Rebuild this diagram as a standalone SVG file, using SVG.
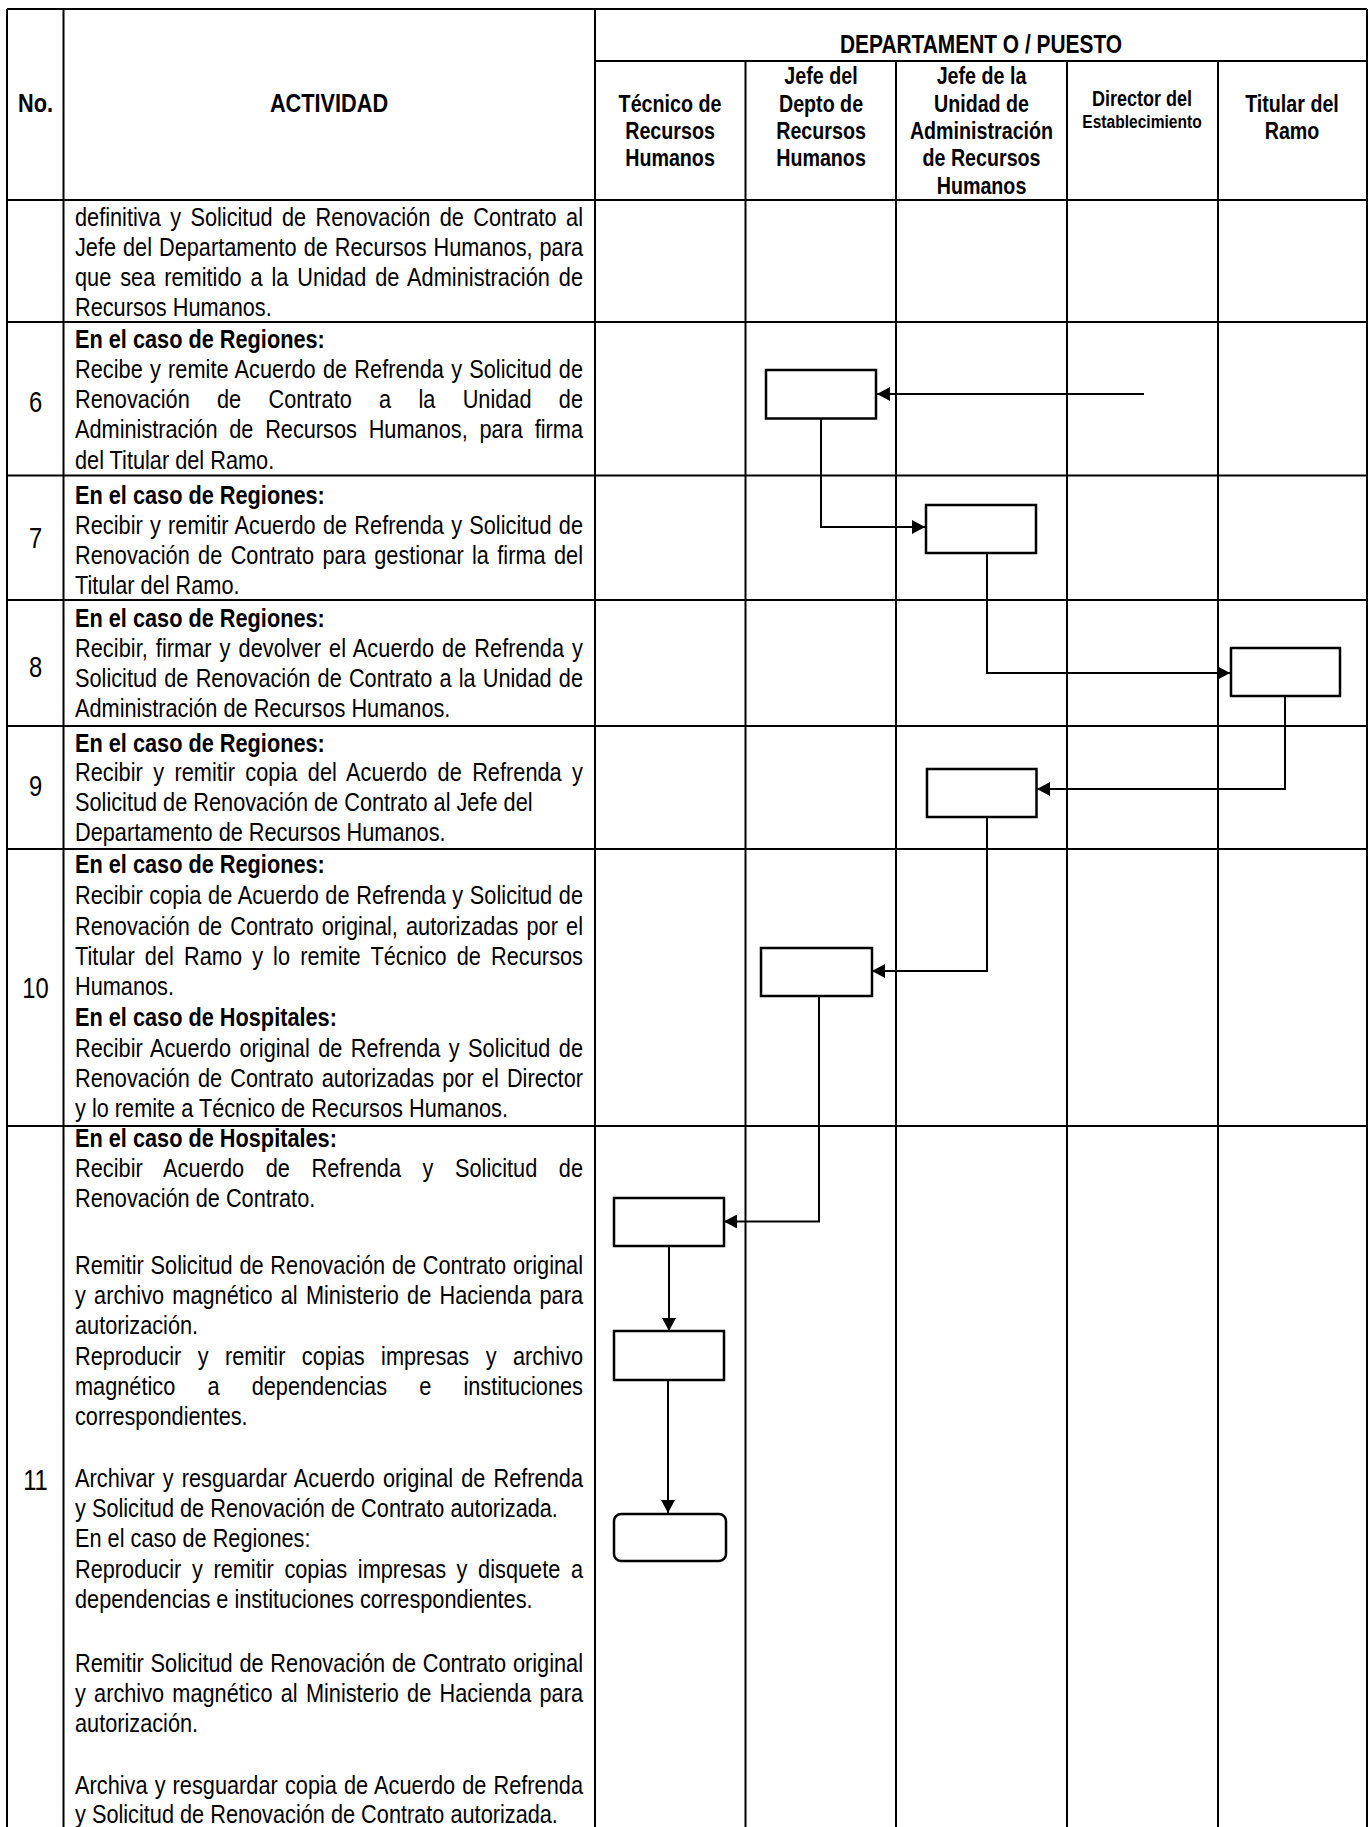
<svg xmlns="http://www.w3.org/2000/svg" width="1371" height="1827" viewBox="0 0 1371 1827">
<style>
text{font-family:"Liberation Sans",Arial,sans-serif;fill:#000}
.t{font-size:26.5px}
.b{font-size:26.5px;font-weight:bold}
.n{font-size:29px;text-anchor:middle}
.h{font-size:24px;font-weight:bold;text-anchor:middle}
.hd{font-size:22px;font-weight:bold;text-anchor:middle}
.hs{font-size:19px;font-weight:bold;text-anchor:middle}
.hb{font-size:26.5px;font-weight:bold;text-anchor:middle}
.hp{font-size:25.5px;font-weight:bold;text-anchor:middle}
.grid line{stroke:#000;stroke-width:2}
.box{fill:#fff;stroke:#000;stroke-width:2.5}
.con{fill:none;stroke:#000;stroke-width:2}
</style>
<defs>
<marker id="ah" markerUnits="userSpaceOnUse" markerWidth="14" markerHeight="14" refX="13" refY="7" orient="auto">
<path d="M0,0 L13,7 L0,14 Z" fill="#000"/>
</marker>
</defs>
<rect x="0" y="0" width="1371" height="1827" fill="#fff"/>
<g id="grid" class="grid">
<line x1="7" y1="9" x2="1367" y2="9"/>
<line x1="7" y1="9" x2="7" y2="1827"/>
<line x1="1367" y1="9" x2="1367" y2="1827"/>
<line x1="63.5" y1="9" x2="63.5" y2="1827"/>
<line x1="595" y1="9" x2="595" y2="1827"/>
<line x1="745.5" y1="61" x2="745.5" y2="1827"/>
<line x1="896" y1="61" x2="896" y2="1827"/>
<line x1="1067" y1="61" x2="1067" y2="1827"/>
<line x1="1218" y1="61" x2="1218" y2="1827"/>
<line x1="595" y1="61" x2="1367" y2="61"/>
<line x1="7" y1="200" x2="1367" y2="200"/>
<line x1="7" y1="322" x2="1367" y2="322"/>
<line x1="7" y1="475.5" x2="1367" y2="475.5"/>
<line x1="7" y1="600" x2="1367" y2="600"/>
<line x1="7" y1="726" x2="1367" y2="726"/>
<line x1="7" y1="849" x2="1367" y2="849"/>
<line x1="7" y1="1126" x2="1367" y2="1126"/>
</g>
<g id="header">
<text class="hp" transform="translate(981 52.5) scale(0.82 1)">DEPARTAMENT O / PUESTO</text>
<text class="hb" transform="translate(35.5 112) scale(0.82 1)">No.</text>
<text class="hb" transform="translate(329 112) scale(0.82 1)">ACTIVIDAD</text>
<text class="h" transform="translate(670 112) scale(0.82 1)">Técnico de</text>
<text class="h" transform="translate(670 138.5) scale(0.82 1)">Recursos</text>
<text class="h" transform="translate(670 166) scale(0.82 1)">Humanos</text>
<text class="h" transform="translate(821 83.5) scale(0.82 1)">Jefe del</text>
<text class="h" transform="translate(821 112) scale(0.82 1)">Depto de</text>
<text class="h" transform="translate(821 138.5) scale(0.82 1)">Recursos</text>
<text class="h" transform="translate(821 166) scale(0.82 1)">Humanos</text>
<text class="h" transform="translate(981.5 83.5) scale(0.82 1)">Jefe de la</text>
<text class="h" transform="translate(981.5 112) scale(0.82 1)">Unidad de</text>
<text class="h" transform="translate(981.5 138.5) scale(0.82 1)">Administración</text>
<text class="h" transform="translate(981.5 166) scale(0.82 1)">de Recursos</text>
<text class="h" transform="translate(981.5 193.5) scale(0.82 1)">Humanos</text>
<text class="hd" transform="translate(1142 106) scale(0.82 1)">Director del</text>
<text class="hs" transform="translate(1142 128) scale(0.82 1)">Establecimiento</text>
<text class="h" transform="translate(1292 112) scale(0.82 1)">Titular del</text>
<text class="h" transform="translate(1292 138.5) scale(0.82 1)">Ramo</text>
</g>
<g id="row5">
<text class="t" transform="translate(75 226) scale(0.82 1)" style="word-spacing:4.13px" textLength="619.5" lengthAdjust="spacing">definitiva y Solicitud de Renovación de Contrato al</text>
<text class="t" transform="translate(75 256) scale(0.82 1)" style="word-spacing:1.13px" textLength="619.5" lengthAdjust="spacing">Jefe del Departamento de Recursos Humanos, para</text>
<text class="t" transform="translate(75 286) scale(0.82 1)" style="word-spacing:3.43px" textLength="619.5" lengthAdjust="spacing">que sea remitido a la Unidad de Administración de</text>
<text class="t" transform="translate(75 316) scale(0.82 1)">Recursos Humanos.</text>
</g>
<g id="row6">
<text class="n" transform="translate(35.5 412) scale(0.82 1)">6</text>
<text class="b" transform="translate(75 348) scale(0.82 1)">En el caso de Regiones:</text>
<text class="t" transform="translate(75 378) scale(0.82 1)" style="word-spacing:1.4px" textLength="619.5" lengthAdjust="spacing">Recibe y remite Acuerdo de Refrenda y Solicitud de</text>
<text class="t" transform="translate(75 408) scale(0.82 1)" style="word-spacing:25.92px" textLength="619.5" lengthAdjust="spacing">Renovación de Contrato a la Unidad de</text>
<text class="t" transform="translate(75 438) scale(0.82 1)" style="word-spacing:6.98px" textLength="619.5" lengthAdjust="spacing">Administración de Recursos Humanos, para firma</text>
<text class="t" transform="translate(75 469) scale(0.82 1)">del Titular del Ramo.</text>
</g>
<g id="row7">
<text class="n" transform="translate(35.5 548) scale(0.82 1)">7</text>
<text class="b" transform="translate(75 504) scale(0.82 1)">En el caso de Regiones:</text>
<text class="t" transform="translate(75 534) scale(0.82 1)" style="word-spacing:1.41px" textLength="619.5" lengthAdjust="spacing">Recibir y remitir Acuerdo de Refrenda y Solicitud de</text>
<text class="t" transform="translate(75 564) scale(0.82 1)" style="word-spacing:2.86px" textLength="619.5" lengthAdjust="spacing">Renovación de Contrato para gestionar la firma del</text>
<text class="t" transform="translate(75 594) scale(0.82 1)">Titular del Ramo.</text>
</g>
<g id="row8">
<text class="n" transform="translate(35.5 677) scale(0.82 1)">8</text>
<text class="b" transform="translate(75 627) scale(0.82 1)">En el caso de Regiones:</text>
<text class="t" transform="translate(75 657) scale(0.82 1)" style="word-spacing:2.33px" textLength="619.5" lengthAdjust="spacing">Recibir, firmar y devolver el Acuerdo de Refrenda y</text>
<text class="t" transform="translate(75 687) scale(0.82 1)" style="word-spacing:1.4px" textLength="619.5" lengthAdjust="spacing">Solicitud de Renovación de Contrato a la Unidad de</text>
<text class="t" transform="translate(75 717) scale(0.82 1)">Administración de Recursos Humanos.</text>
</g>
<g id="row9">
<text class="n" transform="translate(35.5 796) scale(0.82 1)">9</text>
<text class="b" transform="translate(75 752) scale(0.82 1)">En el caso de Regiones:</text>
<text class="t" transform="translate(75 781) scale(0.82 1)" style="word-spacing:5.28px" textLength="619.5" lengthAdjust="spacing">Recibir y remitir copia del Acuerdo de Refrenda y</text>
<text class="t" transform="translate(75 811) scale(0.82 1)">Solicitud de Renovación de Contrato al Jefe del</text>
<text class="t" transform="translate(75 841) scale(0.82 1)">Departamento de Recursos Humanos.</text>
</g>
<g id="row10">
<text class="n" transform="translate(35.5 998) scale(0.82 1)">10</text>
<text class="b" transform="translate(75 873) scale(0.82 1)">En el caso de Regiones:</text>
<text class="t" transform="translate(75 904) scale(0.82 1)" style="word-spacing:0.66px" textLength="619.5" lengthAdjust="spacing">Recibir copia de Acuerdo de Refrenda y Solicitud de</text>
<text class="t" transform="translate(75 935) scale(0.82 1)" style="word-spacing:2.6px" textLength="619.5" lengthAdjust="spacing">Renovación de Contrato original, autorizadas por el</text>
<text class="t" transform="translate(75 965) scale(0.82 1)" style="word-spacing:4.91px" textLength="619.5" lengthAdjust="spacing">Titular del Ramo y lo remite Técnico de Recursos</text>
<text class="t" transform="translate(75 995) scale(0.82 1)">Humanos.</text>
<text class="b" transform="translate(75 1026) scale(0.82 1)">En el caso de Hospitales:</text>
<text class="t" transform="translate(75 1057) scale(0.82 1)" style="word-spacing:2.87px" textLength="619.5" lengthAdjust="spacing">Recibir Acuerdo original de Refrenda y Solicitud de</text>
<text class="t" transform="translate(75 1087) scale(0.82 1)" style="word-spacing:2.6px" textLength="619.5" lengthAdjust="spacing">Renovación de Contrato autorizadas por el Director</text>
<text class="t" transform="translate(75 1117) scale(0.82 1)">y lo remite a Técnico de Recursos Humanos.</text>
</g>
<g id="row11">
<text class="n" transform="translate(35.5 1490) scale(0.82 1)">11</text>
<text class="b" transform="translate(75 1147) scale(0.82 1)">En el caso de Hospitales:</text>
<text class="t" transform="translate(75 1177) scale(0.82 1)" style="word-spacing:18.8px" textLength="619.5" lengthAdjust="spacing">Recibir Acuerdo de Refrenda y Solicitud de</text>
<text class="t" transform="translate(75 1207) scale(0.82 1)">Renovación de Contrato.</text>
<text class="t" transform="translate(75 1274) scale(0.82 1)" style="word-spacing:0.9px" textLength="619.5" lengthAdjust="spacing">Remitir Solicitud de Renovación de Contrato original</text>
<text class="t" transform="translate(75 1304) scale(0.82 1)" style="word-spacing:2.66px" textLength="619.5" lengthAdjust="spacing">y archivo magnético al Ministerio de Hacienda para</text>
<text class="t" transform="translate(75 1334) scale(0.82 1)">autorización.</text>
<text class="t" transform="translate(75 1365) scale(0.82 1)" style="word-spacing:12.7px" textLength="619.5" lengthAdjust="spacing">Reproducir y remitir copias impresas y archivo</text>
<text class="t" transform="translate(75 1395) scale(0.82 1)" style="word-spacing:31.9px" textLength="619.5" lengthAdjust="spacing">magnético a dependencias e instituciones</text>
<text class="t" transform="translate(75 1425) scale(0.82 1)">correspondientes.</text>
<text class="t" transform="translate(75 1487) scale(0.82 1)" style="word-spacing:2.37px" textLength="619.5" lengthAdjust="spacing">Archivar y resguardar Acuerdo original de Refrenda</text>
<text class="t" transform="translate(75 1517) scale(0.82 1)">y Solicitud de Renovación de Contrato autorizada.</text>
<text class="t" transform="translate(75 1547) scale(0.82 1)">En el caso de Regiones:</text>
<text class="t" transform="translate(75 1578) scale(0.82 1)" style="word-spacing:5.61px" textLength="619.5" lengthAdjust="spacing">Reproducir y remitir copias impresas y disquete a</text>
<text class="t" transform="translate(75 1608) scale(0.82 1)">dependencias e instituciones correspondientes.</text>
<text class="t" transform="translate(75 1672) scale(0.82 1)" style="word-spacing:0.9px" textLength="619.5" lengthAdjust="spacing">Remitir Solicitud de Renovación de Contrato original</text>
<text class="t" transform="translate(75 1702) scale(0.82 1)" style="word-spacing:2.66px" textLength="619.5" lengthAdjust="spacing">y archivo magnético al Ministerio de Hacienda para</text>
<text class="t" transform="translate(75 1732) scale(0.82 1)">autorización.</text>
<text class="t" transform="translate(75 1794) scale(0.82 1)" style="word-spacing:1.19px" textLength="619.5" lengthAdjust="spacing">Archiva y resguardar copia de Acuerdo de Refrenda</text>
<text class="t" transform="translate(75 1823) scale(0.82 1)">y Solicitud de Renovación de Contrato autorizada.</text>
</g>
<g id="connectors">
<path class="con" d="M1144,394 H877" marker-end="url(#ah)"/>
<path class="con" d="M821,419 V527 H925" marker-end="url(#ah)"/>
<path class="con" d="M987,553 V673 H1230" marker-end="url(#ah)"/>
<path class="con" d="M1285,696 V789 H1037" marker-end="url(#ah)"/>
<path class="con" d="M987,817 V971 H872" marker-end="url(#ah)"/>
<path class="con" d="M819,996 V1221.5 H724" marker-end="url(#ah)"/>
<path class="con" d="M669,1246 V1331" marker-end="url(#ah)"/>
<path class="con" d="M668,1380 V1513" marker-end="url(#ah)"/>
</g>
<g id="n6"><rect class="box" x="766" y="370" width="110" height="48.5"/></g>
<g id="n7"><rect class="box" x="926" y="505" width="110" height="48"/></g>
<g id="n8"><rect class="box" x="1231" y="648" width="109" height="48"/></g>
<g id="n9"><rect class="box" x="927" y="769" width="109.5" height="48"/></g>
<g id="n10"><rect class="box" x="761" y="948" width="111" height="48"/></g>
<g id="n11a"><rect class="box" x="614" y="1198" width="110" height="48"/></g>
<g id="n11b"><rect class="box" x="614" y="1331" width="110" height="49"/></g>
<g id="n11c"><rect class="box" x="614" y="1514" width="112" height="47" rx="7" ry="7"/></g>
</svg>
